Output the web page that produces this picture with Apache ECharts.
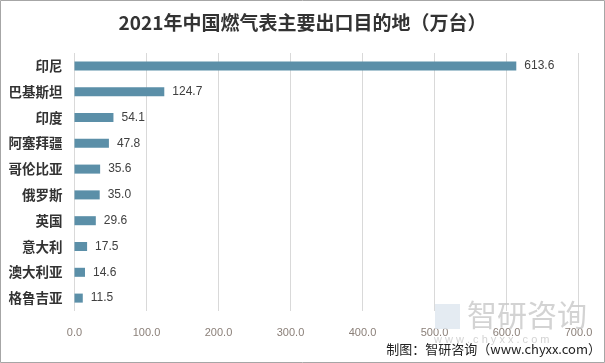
<!DOCTYPE html>
<html><head><meta charset="utf-8">
<script src="https://cdn.jsdelivr.net/npm/echarts@6/dist/echarts.min.js"></script>
<style>html,body{margin:0;padding:0;background:#fff}#c{width:605px;height:363px}</style>
</head><body><div id="c"></div>
<script>
const categories = ['印尼','巴基斯坦','印度','阿塞拜疆','哥伦比亚','俄罗斯','英国','意大利','澳大利亚','格鲁吉亚'];
const values = [613.6,124.7,54.1,47.8,35.6,35.0,29.6,17.5,14.6,11.5];
const titleText = '2021年中国燃气表主要出口目的地（万台）';
const sourceText = '制图：智研咨询（www.chyxx.com）';

const chart = echarts.init(document.getElementById('c'), null, {renderer:'canvas'});
chart.setOption({
  backgroundColor:'#fff',
  animation:false,
  title:{text:titleText,left:'center',top:8,textStyle:{fontFamily:'Noto Sans CJK SC',fontSize:19,fontWeight:'bold',color:'#333'}},
  grid:{left:74.5,right:26.5,top:53,bottom:52},
  xAxis:{type:'value',min:0,max:700,interval:100,
    axisLine:{show:false},axisTick:{show:false},
    splitLine:{lineStyle:{color:'#d9d9d9',width:1}},
    axisLabel:{formatter:v=>v.toFixed(1),color:'#8a7f78',fontSize:11,fontFamily:'Liberation Sans',margin:16}},
  yAxis:{type:'category',data:categories,inverse:true,
    axisLine:{show:false},axisTick:{show:false},
    axisLabel:{color:'#333',fontSize:13.5,fontWeight:'bold',fontFamily:'Noto Sans CJK SC',margin:12}},
  series:[{type:'bar',data:values,barWidth:'35%',itemStyle:{color:'#5b8fa8'},
    label:{show:true,position:'right',distance:8,formatter:p=>p.value.toFixed(1),color:'#404040',fontSize:12,fontFamily:'Liberation Sans'}}],
  graphic:[
    {type:'rect',shape:{x:0.5,y:0.5,width:604,height:362},style:{fill:'none',stroke:'#a6a6a6',lineWidth:1},z:100},
    {type:'rect',shape:{x:435,y:304,width:25,height:25},style:{fill:'#dde6ef',opacity:0.8},z:50},
    {type:'text',left:467,top:300,style:{text:'智研咨询',font:'30px "Noto Sans CJK SC"',fill:'#c8c8c8',opacity:0.8},z:50},
    {type:'text',left:434,top:334,style:{text:'w w w . c h y x x . c o m',font:'11px "Liberation Sans"',fill:'#c8c8c8',opacity:0.8},z:50},
    {type:'text',right:4,top:343,style:{text:sourceText,font:'13px "Noto Sans CJK SC"',fill:'#222'},z:60}
  ]
});
</script></body></html>
